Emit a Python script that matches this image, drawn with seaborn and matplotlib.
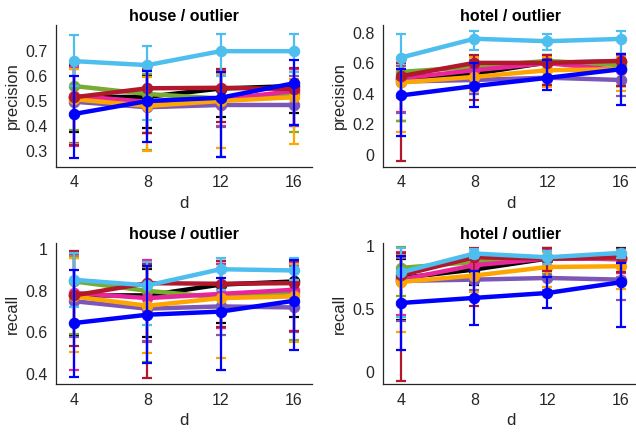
import matplotlib
matplotlib.use('Agg')
import matplotlib.pyplot as plt
from matplotlib.ticker import FormatStrFormatter
import pandas as pd
import seaborn as sns

# x values (dimension d)
d_values = [4, 8, 12, 16]

# series in drawing order (bottom -> top)
series_names = ['black', 'green', 'magenta', 'purple', 'orange', 'red', 'lightblue', 'blue']
series_colors = ['#000000', '#77AC30', '#E8259A', '#7B58B8', '#FFA500', '#B2182B', '#4DBEEE', '#0000FF']

# house / outlier - precision
house_prec_mean = {
    'black': [0.515, 0.517, 0.550, 0.560],
    'green': [0.560, 0.528, 0.510, 0.528],
    'magenta': [0.520, 0.497, 0.506, 0.540],
    'purple': [0.497, 0.475, 0.484, 0.484],
    'orange': [0.507, 0.480, 0.500, 0.515],
    'red': [0.515, 0.551, 0.553, 0.548],
    'lightblue': [0.660, 0.644, 0.700, 0.700],
    'blue': [0.448, 0.500, 0.513, 0.571],
}
house_prec_lo = {
    'black': [0.377, 0.390, 0.435, 0.450],
    'green': [0.383, 0.302, 0.277, 0.375],
    'magenta': [0.320, 0.373, 0.400, 0.400],
    'purple': [0.330, 0.370, 0.397, 0.400],
    'orange': [0.328, 0.300, 0.313, 0.329],
    'red': [0.323, 0.370, 0.415, 0.403],
    'lightblue': [0.560, 0.424, 0.600, 0.617],
    'blue': [0.272, 0.334, 0.275, 0.404],
}
house_prec_hi = {
    'black': [0.640, 0.606, 0.625, 0.630],
    'green': [0.650, 0.610, 0.620, 0.617],
    'magenta': [0.637, 0.627, 0.625, 0.627],
    'purple': [0.630, 0.620, 0.610, 0.600],
    'orange': [0.630, 0.597, 0.610, 0.590],
    'red': [0.647, 0.627, 0.628, 0.633],
    'lightblue': [0.764, 0.720, 0.770, 0.768],
    'blue': [0.600, 0.620, 0.617, 0.664],
}

# hotel / outlier - precision
hotel_prec_mean = {
    'black': [0.496, 0.530, 0.605, 0.610],
    'green': [0.543, 0.576, 0.615, 0.587],
    'magenta': [0.500, 0.554, 0.600, 0.554],
    'purple': [0.480, 0.490, 0.505, 0.490],
    'orange': [0.474, 0.510, 0.554, 0.560],
    'red': [0.515, 0.602, 0.602, 0.615],
    'lightblue': [0.637, 0.760, 0.744, 0.759],
    'blue': [0.389, 0.450, 0.504, 0.560],
}
hotel_prec_lo = {
    'black': [0.224, 0.420, 0.460, 0.450],
    'green': [0.224, 0.398, 0.450, 0.450],
    'magenta': [0.280, 0.420, 0.460, 0.450],
    'purple': [0.276, 0.400, 0.460, 0.385],
    'orange': [0.150, 0.420, 0.446, 0.420],
    'red': [-0.043, 0.359, 0.460, 0.450],
    'lightblue': [0.370, 0.685, 0.685, 0.660],
    'blue': [0.126, 0.311, 0.424, 0.324],
}
hotel_prec_hi = {
    'black': [0.600, 0.640, 0.652, 0.650],
    'green': [0.600, 0.640, 0.640, 0.650],
    'magenta': [0.600, 0.640, 0.640, 0.650],
    'purple': [0.580, 0.620, 0.630, 0.620],
    'orange': [0.600, 0.640, 0.640, 0.640],
    'red': [0.600, 0.652, 0.652, 0.663],
    'lightblue': [0.793, 0.810, 0.790, 0.810],
    'blue': [0.560, 0.600, 0.620, 0.660],
}

# house / outlier - recall
house_rec_mean = {
    'black': [0.778, 0.778, 0.830, 0.845],
    'green': [0.845, 0.800, 0.768, 0.794],
    'magenta': [0.790, 0.765, 0.785, 0.805],
    'purple': [0.750, 0.714, 0.725, 0.720],
    'orange': [0.773, 0.728, 0.765, 0.773],
    'red': [0.778, 0.837, 0.834, 0.837],
    'lightblue': [0.853, 0.826, 0.904, 0.898],
    'blue': [0.645, 0.685, 0.700, 0.752],
}
house_rec_lo = {
    'black': [0.586, 0.576, 0.645, 0.674],
    'green': [0.592, 0.456, 0.620, 0.565],
    'magenta': [0.420, 0.557, 0.620, 0.605],
    'purple': [0.580, 0.552, 0.589, 0.600],
    'orange': [0.505, 0.500, 0.477, 0.552],
    'red': [0.533, 0.380, 0.624, 0.605],
    'lightblue': [0.720, 0.637, 0.805, 0.850],
    'blue': [0.386, 0.453, 0.420, 0.514],
}
house_rec_hi = {
    'black': [0.965, 0.905, 0.944, 0.944],
    'green': [0.970, 0.917, 0.930, 0.930],
    'magenta': [0.975, 0.946, 0.930, 0.940],
    'purple': [0.960, 0.920, 0.900, 0.920],
    'orange': [0.957, 0.920, 0.910, 0.930],
    'red': [0.994, 0.928, 0.944, 0.944],
    'lightblue': [0.980, 0.940, 0.960, 0.960],
    'blue': [0.900, 0.920, 0.864, 0.950],
}

# hotel / outlier - recall
hotel_rec_mean = {
    'black': [0.743, 0.810, 0.897, 0.900],
    'green': [0.823, 0.870, 0.907, 0.889],
    'magenta': [0.730, 0.844, 0.897, 0.895],
    'purple': [0.720, 0.730, 0.743, 0.730],
    'orange': [0.712, 0.762, 0.830, 0.836],
    'red': [0.765, 0.907, 0.897, 0.907],
    'lightblue': [0.788, 0.937, 0.907, 0.942],
    'blue': [0.545, 0.585, 0.624, 0.709],
}
hotel_rec_lo = {
    'black': [0.413, 0.685, 0.800, 0.780],
    'green': [0.600, 0.750, 0.775, 0.750],
    'magenta': [0.450, 0.700, 0.800, 0.780],
    'purple': [0.400, 0.650, 0.650, 0.566],
    'orange': [0.315, 0.632, 0.669, 0.659],
    'red': [-0.071, 0.519, 0.800, 0.791],
    'lightblue': [0.434, 0.900, 0.850, 0.900],
    'blue': [0.175, 0.373, 0.505, 0.352],
}
hotel_rec_hi = {
    'black': [0.897, 0.970, 0.980, 0.980],
    'green': [0.987, 0.970, 0.970, 0.970],
    'magenta': [0.950, 0.970, 0.970, 0.970],
    'purple': [0.900, 0.900, 0.900, 0.900],
    'orange': [0.934, 0.950, 0.950, 0.950],
    'red': [0.942, 0.980, 0.980, 0.970],
    'lightblue': [0.980, 0.974, 0.955, 0.968],
    'blue': [0.920, 0.800, 0.750, 0.860],
}

sns.set_style('white')
plt.rcParams['font.family'] = ['Liberation Sans', 'DejaVu Sans']

fig = plt.figure(figsize=(6.36, 4.32), dpi=100)

# panel setup: (rect, title, ylabel, mean, lo, hi, ylim, yticks)
panels = [
    ([0.088, 0.6134, 0.4025, 0.3287], 'house / outlier', 'precision',
     house_prec_mean, house_prec_lo, house_prec_hi, (0.235, 0.805), [0.3, 0.4, 0.5, 0.6, 0.7]),
    ([0.602, 0.6134, 0.4025, 0.3287], 'hotel / outlier', 'precision',
     hotel_prec_mean, hotel_prec_lo, hotel_prec_hi, (-0.08, 0.85), [0, 0.2, 0.4, 0.6, 0.8]),
    ([0.088, 0.1104, 0.4025, 0.327], 'house / outlier', 'recall',
     house_rec_mean, house_rec_lo, house_rec_hi, (0.35, 1.03), [0.4, 0.6, 0.8, 1.0]),
    ([0.602, 0.1104, 0.4025, 0.327], 'hotel / outlier', 'recall',
     hotel_rec_mean, hotel_rec_lo, hotel_rec_hi, (-0.1, 1.02), [0, 0.5, 1.0]),
]

for rect, title, ylab, mean, lo, hi, ylim, yticks in panels:
    ax = fig.add_axes(rect)
    for i, (name, col) in enumerate(zip(series_names, series_colors)):
        df = pd.DataFrame({'d': d_values, 'v': mean[name]})
        yerr = [[m - l for m, l in zip(mean[name], lo[name])],
                [h - m for m, h in zip(mean[name], hi[name])]]
        ax.errorbar(df['d'], df['v'], yerr=yerr, fmt='none', ecolor=col,
                    elinewidth=1.6, capsize=3.5, capthick=1.6, zorder=2 + 2 * i)
        sns.lineplot(data=df, x='d', y='v', color=col, lw=3.2, marker='o',
                     markersize=7.5, markeredgecolor=col, ax=ax, zorder=3 + 2 * i)

    ax.set_xlim(3, 17)
    ax.set_ylim(*ylim)
    ax.set_xticks(d_values)
    ax.set_yticks(yticks)
    ax.yaxis.set_major_formatter(FormatStrFormatter('%g'))
    ax.set_title(title, fontsize=11.5, fontweight='bold', color='black', pad=3)
    ax.set_xlabel('d', fontsize=12, color='#262626', labelpad=4)
    ax.set_ylabel(ylab, fontsize=12, color='#262626', labelpad=4)
    ax.tick_params(axis='both', direction='in', labelsize=11.5, colors='#262626',
                   length=3, width=0.8, pad=6)
    sns.despine(ax=ax)
    for s in ['left', 'bottom']:
        ax.spines[s].set_color('#262626')
        ax.spines[s].set_linewidth(0.9)

fig.savefig('out.png', dpi=100)
plt.close()
